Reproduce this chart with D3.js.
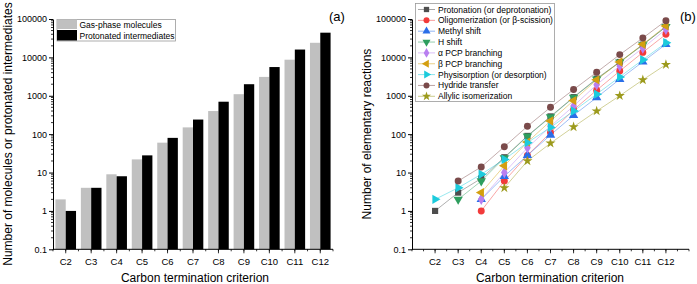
<!DOCTYPE html>
<html>
<head>
<meta charset="utf-8">
<script src="https://cdn.jsdelivr.net/npm/d3@7"></script>
<style>
  body { margin: 0; background: #fff; }
  svg { font-family: Arial, "Liberation Sans", sans-serif; }
</style>
</head>
<body>
<script>
var width = 697, height = 284;

// data
var categories = ["C2", "C3", "C4", "C5", "C6", "C7", "C8", "C9", "C10", "C11", "C12"];
var gasPhase = [2, 4, 9, 22, 60, 150, 400, 1100, 3100, 8700, 24000];
var protonated = [1, 4, 8, 28, 80, 240, 700, 2000, 5600, 16000, 44000];
var yTicks = [0.1, 1, 10, 100, 1000, 10000, 100000];

// elementary reactions (null = not present)
var protonation    = [1, 3, 7, 25, 90, 290, 920, 2800, 7600, 21500, 62000];
var oligomerization = [null, null, 1, 6, 28, 110, 430, 1400, 4400, 13500, 40000];
var methylShift    = [null, null, 2, 8, 28, 95, 310, 900, 2700, 7700, 22000];
var hShift         = [null, 2, 6, 24, 88, 280, 900, 2700, 7500, 21000, 63000];
var alphaPCP       = [null, null, 2, 10, 44, 160, 540, 1950, 6000, 17500, 54000];
var betaPCP        = [null, null, 3, 15, 62, 220, 750, 2600, 7600, 22000, 66000];
var physisorption  = [2, 4, 9, 22, 60, 150, 400, 1100, 3100, 8700, 24000];
var hydride        = [null, 6, 14, 47, 160, 500, 1450, 4100, 11800, 32000, 90000];
var allylic        = [null, null, null, 4, 20, 58, 155, 400, 1000, 2600, 6500];

var seriesNames = ["Protonation (or deprotonation)", "Oligomerization (or \u03b2-scission)",
  "Methyl shift", "H shift", "\u03b1 PCP branching", "\u03b2 PCP branching",
  "Physisorption (or desorption)", "Hydride transfer", "Allylic isomerization"];
var seriesValues = [protonation, oligomerization, methylShift, hShift, alphaPCP,
  betaPCP, physisorption, hydride, allylic];
var seriesColors = ["#4d4d4d", "#f23a3a", "#2a6ee8", "#2e9e5e", "#b97ff0",
  "#d49f10", "#1ccbdc", "#7a4a4a", "#9c9a1c"];
var seriesSymbols = [
  { t: d3.symbolSquare, r: 0 }, { t: d3.symbolCircle, r: 0 },
  { t: d3.symbolTriangle, r: 0 }, { t: d3.symbolTriangle, r: 180 },
  { t: d3.symbolDiamond, r: 0 }, { t: d3.symbolTriangle, r: -90 },
  { t: d3.symbolTriangle, r: 90 }, { t: d3.symbolCircle, r: 0 },
  { t: d3.symbolStar, r: 0 }];

var svg = d3.select("body").append("svg").attr("width", width).attr("height", height);

var yTop = 19, yBottom = 249.3;

function logAxis(g, y, x0) {
  // minor ticks
  var minors = [];
  for (var e = -1; e < 5; e++) {
    for (var k = 2; k < 10; k++) minors.push(k * Math.pow(10, e));
  }
  g.selectAll(".minor").data(minors).join("line")
    .attr("x1", x0).attr("x2", x0 - 2)
    .attr("y1", function (d) { return y(d); }).attr("y2", function (d) { return y(d); })
    .attr("stroke", "#000").attr("stroke-width", 0.8);
  g.append("g").attr("transform", "translate(" + x0 + ",0)")
    .call(d3.axisLeft(y).tickValues(yTicks).tickFormat(function (d) { return d < 1 ? "0.1" : d3.format("d")(d); })
      .tickSize(4).tickPadding(2).tickSizeOuter(0))
    .call(function (a) {
      a.selectAll("text").attr("font-size", 9).attr("fill", "#000");
      a.select(".domain").attr("stroke-width", 1);
    });
}

function bottomAxis(g, x0, x1, centers, minorStep) {
  g.append("line").attr("x1", x0).attr("x2", x1).attr("y1", yBottom).attr("y2", yBottom)
    .attr("stroke", "#000").attr("stroke-width", 1);
  var minors = d3.range(x0, x1 + 0.5, minorStep);
  g.selectAll(".xminor").data(minors).join("line")
    .attr("x1", function (d) { return d; }).attr("x2", function (d) { return d; })
    .attr("y1", yBottom).attr("y2", yBottom + 2)
    .attr("stroke", "#000").attr("stroke-width", 0.8);
  g.selectAll(".xmajor").data(centers).join("line")
    .attr("x1", function (d) { return d.x; }).attr("x2", function (d) { return d.x; })
    .attr("y1", yBottom).attr("y2", yBottom + 4)
    .attr("stroke", "#000").attr("stroke-width", 0.8);
  g.selectAll(".xlab").data(centers).join("text")
    .attr("x", function (d) { return d.x; }).attr("y", yBottom + 16)
    .attr("text-anchor", "middle").attr("font-size", 9.5).text(function (d) { return d.c; });
}

// ---------- (a) bar chart ----------
var aLeft = 53, aRight = 333;
var ya = d3.scaleLog().domain([0.1, 100000]).range([yBottom, yTop]);
var xa = d3.scaleBand().domain(categories).range([aLeft, aRight]).paddingInner(0.19).paddingOuter(0.095);
var ga = svg.append("g");

var barW = xa.bandwidth() / 2;
ga.selectAll(".gas").data(categories).join("rect")
  .attr("x", function (d) { return xa(d); })
  .attr("y", function (d, i) { return ya(gasPhase[i]); })
  .attr("width", barW)
  .attr("height", function (d, i) { return yBottom - ya(gasPhase[i]); })
  .attr("fill", "#c0c0c0");
ga.selectAll(".prot").data(categories).join("rect")
  .attr("x", function (d) { return xa(d) + barW; })
  .attr("y", function (d, i) { return ya(protonated[i]); })
  .attr("width", barW)
  .attr("height", function (d, i) { return yBottom - ya(protonated[i]); })
  .attr("fill", "#000");

logAxis(ga, ya, aLeft);
bottomAxis(ga, aLeft, aRight,
  categories.map(function (c) { return { c: c, x: xa(c) + xa.bandwidth() / 2 }; }),
  xa.step() / 2);

// legend (a)
var la = ga.append("g");
la.append("rect").attr("x", 57).attr("y", 19.5).attr("width", 118.5).attr("height", 21.5)
  .attr("fill", "#fff").attr("stroke", "#999").attr("stroke-width", 0.8);
la.append("rect").attr("x", 57).attr("y", 19.5).attr("width", 20).attr("height", 9.5).attr("fill", "#c0c0c0");
la.append("rect").attr("x", 57).attr("y", 30).attr("width", 20).attr("height", 10.5).attr("fill", "#000");
la.append("text").attr("x", 79.5).attr("y", 27.8).attr("font-size", 8.5).text("Gas-phase molecules");
la.append("text").attr("x", 79.5).attr("y", 38.5).attr("font-size", 8.5).text("Protonated intermediates");

ga.append("text").attr("x", 195).attr("y", 281.5).attr("text-anchor", "middle")
  .attr("font-size", 12).text("Carbon termination criterion");
ga.append("text").attr("transform", "translate(12,134) rotate(-90)").attr("text-anchor", "middle")
  .attr("font-size", 12).text("Number of molecules or protonated intermediates");
ga.append("text").attr("x", 329).attr("y", 21).attr("font-size", 13).text("(a)");

// ---------- (b) line chart ----------
var bLeft = 412, bRight = 689;
var yb = d3.scaleLog().domain([0.1, 100000]).range([yBottom, yTop]);
var xb = d3.scalePoint().domain(categories).range([bLeft, bRight]).padding(1);
var gb = svg.append("g");

logAxis(gb, yb, bLeft);
bottomAxis(gb, bLeft, bRight,
  categories.map(function (c) { return { c: c, x: xb(c) }; }),
  xb.step() / 2);

var line = d3.line()
  .defined(function (d) { return d.v != null; })
  .x(function (d) { return xb(d.c); })
  .y(function (d) { return yb(d.v); });

seriesValues.forEach(function (vals, s) {
  var pts = categories.map(function (c, i) { return { c: c, v: vals[i] }; });
  gb.append("path").datum(pts.filter(function (d) { return d.v != null; }))
    .attr("d", line).attr("fill", "none")
    .attr("stroke", seriesColors[s]).attr("stroke-opacity", 0.45).attr("stroke-width", 1);
});
seriesValues.forEach(function (vals, s) {
  var pts = categories.map(function (c, i) { return { c: c, v: vals[i] }; })
    .filter(function (d) { return d.v != null; });
  var sym = d3.symbol().type(seriesSymbols[s].t).size(seriesSymbols[s].t === d3.symbolStar ? 32 : 38);
  gb.selectAll(".m" + s).data(pts).join("path")
    .attr("d", sym)
    .attr("transform", function (d) {
      return "translate(" + xb(d.c) + "," + yb(d.v) + ") rotate(" + seriesSymbols[s].r + ")";
    })
    .attr("fill", seriesColors[s]);
});

// legend (b)
var lb = gb.append("g");
lb.append("rect").attr("x", 415.5).attr("y", 3.5).attr("width", 139).attr("height", 98)
  .attr("fill", "#fff").attr("stroke", "#999").attr("stroke-width", 0.8);
seriesNames.forEach(function (name, s) {
  var yy = 9.5 + s * 10.85;
  lb.append("line").attr("x1", 418).attr("x2", 435).attr("y1", yy).attr("y2", yy)
    .attr("stroke", seriesColors[s]).attr("stroke-opacity", 0.5).attr("stroke-width", 1);
  var sym = d3.symbol().type(seriesSymbols[s].t).size(seriesSymbols[s].t === d3.symbolStar ? 26 : 28);
  lb.append("path").attr("d", sym)
    .attr("transform", "translate(426.5," + yy + ") rotate(" + seriesSymbols[s].r + ")")
    .attr("fill", seriesColors[s]);
  lb.append("text").attr("x", 438).attr("y", yy + 3).attr("font-size", 8.5).text(name);
});

gb.append("text").attr("x", 550).attr("y", 281.5).attr("text-anchor", "middle")
  .attr("font-size", 12).text("Carbon termination criterion");
gb.append("text").attr("transform", "translate(371,134) rotate(-90)").attr("text-anchor", "middle")
  .attr("font-size", 12).text("Number of elementary reactions");
gb.append("text").attr("x", 680).attr("y", 21).attr("font-size", 13).text("(b)");
</script>
</body>
</html>
